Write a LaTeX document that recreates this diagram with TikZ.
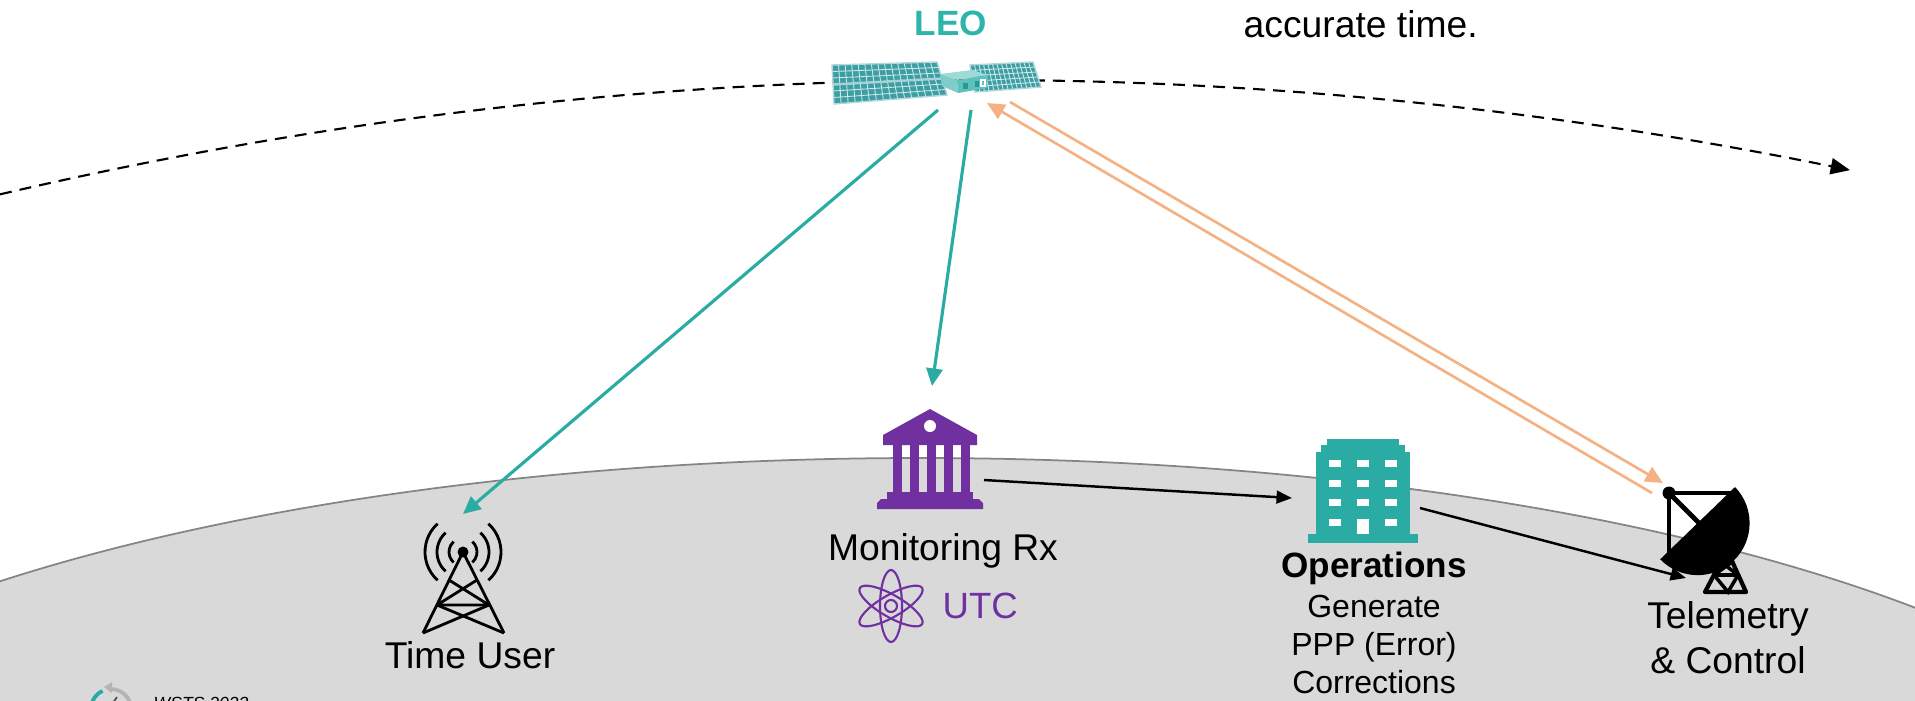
\documentclass[tikz,border=0pt]{standalone}
\usepackage{fontspec}
\setmainfont{Liberation Sans}
\usetikzlibrary{arrows.meta,calc}
\definecolor{tealc}{HTML}{2AACA5}
\definecolor{leoc}{HTML}{2DB5AC}
\definecolor{purp}{HTML}{7030A0}
\definecolor{orangec}{HTML}{F4B183}
\definecolor{groundc}{HTML}{D9D9D9}
\definecolor{groundline}{HTML}{858585}
\definecolor{panelc}{HTML}{3A9EA3}
\definecolor{logogray}{HTML}{B4B4B4}
\begin{document}
\begin{tikzpicture}[x=0.1mm,y=-0.1mm,
  lbl/.style={inner sep=0pt, anchor=base, font=\fontsize{10.6}{12.8}\selectfont},
  bold lbl/.style={inner sep=0pt, anchor=base, font=\fontsize{10}{12}\selectfont\bfseries},
  small lbl/.style={inner sep=0pt, anchor=base, align=center, font=\fontsize{9.1}{10.8}\selectfont},
  orbit/.style={line width=0.6pt, dash pattern=on 3.4pt off 2.3pt, -{Triangle[length=5.5pt,width=4.6pt]}},
  downlink/.style={tealc, line width=0.9pt, -{Triangle[length=5pt,width=4.6pt]}},
  uplink/.style={orangec, line width=0.75pt, -{Triangle[length=5pt,width=4.6pt]}},
  flow/.style={black, line width=0.7pt, -{Triangle[length=4.4pt,width=3.6pt]}},
  gridl/.style={white!75!panelc, line width=0.25pt},
  ico/.style={black, line width=0.8pt, line join=round},
  dishl/.style={black, line width=1.4pt, line cap=round},
]
\useasboundingbox (0,0) rectangle (1915,700);
\clip (0,0) rectangle (1915,700);

% ---- Earth surface ----
\fill[groundc] (920,878) ellipse [x radius=1300, y radius=420];
\draw[groundline, line width=0.5pt] (920,878) ellipse [x radius=1300, y radius=420];

% ---- LEO orbit ----
\draw[orbit] plot[domain=0:1850, samples=90] (\x, {80 + ((\x-980)/100)^2*1.1905});

% ---- connector end points ----
\coordinate (satTU) at (938,110);
\coordinate (satMon) at (971,110);
\coordinate (satIn) at (987,103);
\coordinate (satOut) at (1010,102);
\coordinate (tuIn) at (463,514);
\coordinate (monIn) at (932,386);
\coordinate (monOut) at (984,480);
\coordinate (opsIn) at (1292,498);
\coordinate (opsOut) at (1420,508);
\coordinate (tcIn) at (1686,578);
\coordinate (tcUp) at (1652,493);
\coordinate (tcDown) at (1663,483);

% ---- links ----
\draw[downlink] (satTU) -- (tuIn);
\draw[downlink] (satMon) -- (monIn);
\draw[uplink] (tcUp) -- (satIn);
\draw[uplink] (satOut) -- (tcDown);
\draw[flow] (monOut) -- (opsIn);
\draw[flow] (opsOut) -- (tcIn);

% ---- satellite ----
\coordinate (rp1) at (970,65);
\coordinate (rp2) at (1033,62);
\coordinate (rp3) at (1041,87);
\coordinate (rp4) at (975,92);
\fill[panelc] (rp1) -- (rp2) -- (rp3) -- (rp4) -- cycle;
\foreach \i in {1,...,13}
  \draw[gridl] ($(rp1)!\i/14!(rp2)$) -- ($(rp4)!\i/14!(rp3)$);
\foreach \j in {1,...,4}
  \draw[gridl] ($(rp1)!\j/5!(rp4)$) -- ($(rp2)!\j/5!(rp3)$);
\draw[white!60!panelc, line width=0.4pt] (rp1) -- (rp2) -- (rp3) -- (rp4) -- cycle;

\coordinate (lp1) at (832,65);
\coordinate (lp2) at (937,62);
\coordinate (lp3) at (947,95);
\coordinate (lp4) at (834,104);
\fill[panelc] (lp1) -- (lp2) -- (lp3) -- (lp4) -- cycle;
\foreach \i in {1,...,15}
  \draw[gridl] ($(lp1)!\i/16!(lp2)$) -- ($(lp4)!\i/16!(lp3)$);
\foreach \j in {1,2,4,5}
  \draw[gridl] ($(lp1)!\j/6!(lp4)$) -- ($(lp2)!\j/6!(lp3)$);
\draw[white!55!panelc, line width=0.7pt] ($(lp1)!0.5!(lp4)$) -- ($(lp2)!0.5!(lp3)$);
\draw[white!60!panelc, line width=0.4pt] (lp1) -- (lp2) -- (lp3) -- (lp4) -- cycle;

\fill[tealc!45] (940,74) -- (972,70) -- (988,75) -- (957,80) -- cycle;
\fill[tealc!75] (957,80) -- (988,75) -- (987,88) -- (958,93) -- cycle;
\fill[tealc!60] (940,74) -- (957,80) -- (958,93) -- (942,86) -- cycle;
\fill[tealc!90!black] (963,83) rectangle (968,89);
\fill[tealc!90!black] (975,81) rectangle (979,87);
\draw[white, line width=0.3pt] (981,80) rectangle (985,86);

% ---- Time User (radio tower) ----
\coordinate (tu) at (463,552);
\draw[ico] (423,633) -- (tu) -- (504,633);
\draw[ico] (449,580) -- (489,605) -- (437,605) -- (477,580);
\draw[ico] (437,605) -- (504,633);
\draw[ico] (489,605) -- (423,633);
\fill (tu) circle (5.5);
\foreach \r in {14,26,38} {
  \draw[ico] ($(tu)+(-48:\r)$) arc[start angle=-48, end angle=48, radius=\r];
  \draw[ico] ($(tu)+(132:\r)$) arc[start angle=132, end angle=228, radius=\r];
}
\node[lbl] (tulbl) at (470,668) {Time User};

% ---- Monitoring Rx (institution) ----
\coordinate (mon) at (930,460);
\fill[purp] (930,409) -- (977,435) -- (977,445) -- (883,445) -- (883,435) -- cycle;
\fill[white] (930,426) circle (6);
\foreach \cx in {893,910,927,944,961}
  \fill[purp] (\cx,445) rectangle ++(9,48);
\fill[purp] (887,492) rectangle (973,499);
\fill[purp] (881,499) -- (979,499) -- (983,503) -- (983,509) -- (877,509) -- (877,503) -- cycle;
\node[lbl] (monlbl) at (943,560) {Monitoring Rx};

% atom symbol for UTC
\coordinate (atom) at (891,606);
\begin{scope}[purp, line width=0.6pt]
  \draw[rotate around={90:(atom)}] (atom) ellipse [x radius=36, y radius=11];
  \draw[rotate around={30:(atom)}] (atom) ellipse [x radius=36, y radius=11];
  \draw[rotate around={-30:(atom)}] (atom) ellipse [x radius=36, y radius=11];
  \draw (atom) circle (6);
\end{scope}
\node[lbl, anchor=base west, text=purp, font=\fontsize{10.4}{12}\selectfont] (utc) at (942,618) {UTC};

% ---- Operations (office building) ----
\coordinate (ops) at (1363,490);
\fill[tealc] (1327,439) rectangle (1399,446);
\fill[tealc] (1321,445) rectangle (1405,453);
\fill[tealc] (1316,452) rectangle (1410,535);
\fill[tealc] (1308,534) rectangle (1418,543);
\foreach \wx in {1329,1357,1385}
  \foreach \wy in {460,480,499}
    \fill[white] (\wx,\wy) rectangle ++(12,7);
\fill[white] (1329,519) rectangle ++(12,7);
\fill[white] (1385,519) rectangle ++(12,7);
\fill[white] (1357,519) rectangle (1369,534);
\node[bold lbl] (opslbl) at (1374,577) {Operations};
% multi-line node: base anchor sits on the last line
\node[small lbl] (opstxt) at (1374,693) {Generate\\PPP (Error)\\Corrections};

% ---- Telemetry & Control (dish antenna) ----
\coordinate (tc) at (1669,493);
\fill (1735,487) arc[start angle=-44, end angle=136, radius=52] -- cycle;
\draw[dishl] (tc) -- (1669,556);
\draw[dishl] (tc) -- (1733,493);
\draw[dishl] (tc) -- (1701,525);
\fill (tc) circle (6.5);
\draw[black, line width=1.2pt, line join=round, line cap=round]
  (1705,592) -- (1727,550) -- (1746,592) -- cycle;
\draw[black, line width=1.0pt] (1714,575) -- (1738,575);
\draw[black, line width=1.0pt] (1721,562) -- (1738,575);
\draw[black, line width=1.0pt] (1732,562) -- (1714,575);
\draw[black, line width=1.0pt] (1714,575) -- (1728,592) -- (1738,575);
\node[lbl, align=center, font=\fontsize{10.6}{12.8}\selectfont] (tclbl) at (1728,673) {Telemetry\\\& Control};

% ---- satellite label and note ----
\node[bold lbl, text=leoc] (leo) at (951,35) {LEO};
\node[lbl, anchor=base west] (note) at (1243,37) {accurate time.};

% ---- footer logo ----
\coordinate (logo) at (111,709);
\draw[tealc, line width=1.1pt] ($(logo)+(160:20)$) arc[start angle=160, end angle=245, radius=20];
\draw[logogray, line width=1.1pt] ($(logo)+(268:20)$) arc[start angle=268, end angle=370, radius=20];
\fill[logogray] (104,687) -- (112,682) -- (112,693) -- cycle;
\draw[black!70, line width=0.5pt] (111,706) -- (117,697);
\node[inner sep=0pt, anchor=base west, font=\fontsize{5}{6}\selectfont\itshape] (wsts) at (153,709) {WSTS 2023};
\end{tikzpicture}
\end{document}
